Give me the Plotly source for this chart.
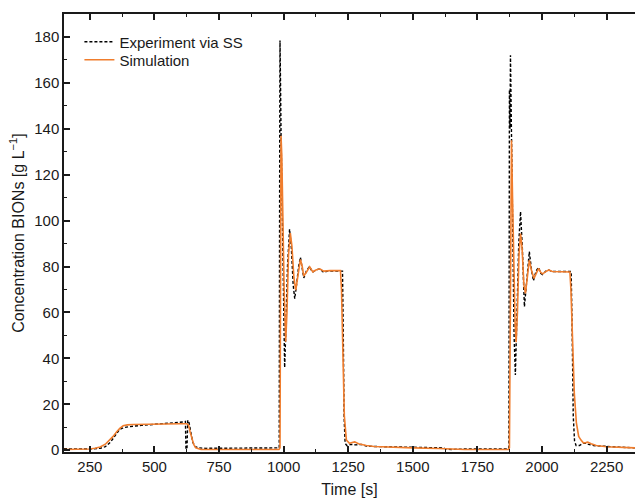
import plotly.graph_objects as go

# Experiment via SS (time [s], concentration [g/L])
exp_t = [150, 200, 250, 290, 310, 330, 350, 365, 380, 400, 450, 500, 550, 600, 615, 620,
         622, 626, 629, 634, 640, 648, 658, 670, 700, 800, 900, 975, 983, 985, 986, 988,
         990, 995, 1000, 1004, 1008, 1015, 1023, 1030, 1037, 1043, 1050, 1058, 1065, 1072,
         1078, 1088, 1100, 1112, 1125, 1140, 1155, 1170, 1190, 1210, 1228, 1231, 1234, 1238,
         1245, 1260, 1280, 1300, 1320, 1350, 1400, 1500, 1600, 1620, 1628, 1640, 1650, 1700,
         1800, 1868, 1872, 1874, 1876, 1878, 1881, 1886, 1892, 1897, 1903, 1910, 1917, 1924,
         1932, 1940, 1951, 1960, 1967, 1977, 1987, 1995, 2002, 2015, 2026, 2040, 2060, 2080,
         2100, 2113, 2117, 2121, 2126, 2132, 2145, 2160, 2170, 2180, 2200, 2230, 2260, 2300, 2360]
exp_c = [0.6, 0.5, 0.5, 0.8, 1.5, 3.5, 6.5, 9.0, 9.8, 10.2, 10.8, 11.2, 11.6, 12.0, 12.3, 12.5,
         0.5, 0.5, 13.0, 12.0, 8.0, 3.5, 1.5, 1.0, 0.8, 0.8, 0.8, 0.8, 1.0, 140.0, 178.5, 160.0,
         138.0, 100.0, 60.0, 36.0, 50.0, 80.0, 96.3, 88.0, 72.0, 66.0, 72.0, 80.0, 84.0, 79.0,
         75.0, 78.0, 80.0, 77.5, 78.5, 79.0, 77.5, 78.0, 78.0, 78.0, 78.0, 50.0, 15.0, 3.0,
         2.0, 2.5, 2.3, 2.5, 1.8, 1.6, 1.5, 1.2, 1.1, 1.0, 0.5, 0.4, 0.3, 0.5,
         0.5, 0.5, 1.0, 157.0, 140.0, 172.0, 140.0, 95.0, 50.0, 32.7, 55.0, 90.0, 103.9, 88.0,
         62.5, 72.0, 86.5, 78.0, 73.8, 78.0, 79.6, 77.0, 76.5, 78.0, 78.5, 77.8, 77.8, 77.8,
         77.8, 77.8, 50.0, 15.0, 4.0, 2.0, 2.0, 3.0, 3.0, 2.5, 2.0, 1.7, 1.5, 1.3, 1.0]

# Simulation
sim_t = [150, 200, 250, 270, 290, 310, 328, 340, 354, 366, 379, 395, 418, 450, 500, 600, 625,
         632, 638, 645, 652, 660, 670, 680, 800, 900, 982, 986, 988, 990, 993, 997, 1002, 1008,
         1013, 1019, 1026, 1032, 1040, 1047, 1055, 1065, 1072, 1078, 1088, 1101, 1113, 1125,
         1140, 1155, 1180, 1220, 1224, 1229, 1235, 1243, 1255, 1265, 1275, 1290, 1320, 1350,
         1400, 1500, 1600, 1650, 1700, 1800, 1870, 1874, 1877, 1882, 1886, 1891, 1896, 1900,
         1905, 1911, 1917, 1923, 1930, 1936, 1943, 1951, 1960, 1969, 1978, 1987, 1995, 2002,
         2015, 2026, 2040, 2080, 2108, 2112, 2118, 2125, 2133, 2142, 2151, 2160, 2170, 2177,
         2190, 2210, 2250, 2300, 2360]
sim_c = [0.3, 0.3, 0.5, 0.8, 1.4, 2.6, 4.4, 6.0, 8.0, 9.5, 10.6, 11.0, 11.2, 11.3, 11.4, 11.5, 11.5,
         11.0, 8.0, 5.0, 2.5, 1.0, 0.5, 0.3, 0.3, 0.3, 0.3, 1.0, 100.0, 137.0, 128.0, 100.0, 70.0, 47.2,
         60.0, 85.0, 94.6, 89.0, 75.0, 69.7, 75.0, 83.1, 80.0, 75.8, 77.5, 79.9, 77.7, 78.5,
         79.0, 78.0, 78.2, 78.2, 70.0, 40.0, 15.0, 4.4, 3.0, 3.3, 3.6, 2.8, 2.0, 1.6,
         1.3, 1.0, 0.7, 0.4, 0.3, 0.3, 0.3, 1.0, 80.0, 135.0, 110.0, 80.0, 55.0, 47.0,
         60.0, 85.0, 94.4, 88.0, 72.0, 68.3, 75.0, 82.8, 78.0, 74.8, 77.0, 79.2, 77.5, 76.8,
         77.8, 78.5, 77.8, 77.6, 77.6, 70.0, 50.0, 25.0, 12.0, 6.0, 4.4, 3.2, 3.3, 3.5,
         2.8, 2.0, 1.5, 1.2, 1.0]

x_ticks = [250, 500, 750, 1000, 1250, 1500, 1750, 2000, 2250]
y_ticks = [0, 20, 40, 60, 80, 100, 120, 140, 160, 180]

FONT = "Liberation Sans, Arial, sans-serif"
TXT = "#1a1a1a"

fig = go.Figure()
fig.add_trace(go.Scatter(x=exp_t, y=exp_c, mode="lines", name="Experiment via SS",
                         legend="legend",
                         line=dict(color="black", width=1.4, dash="3px,2px")))
fig.add_trace(go.Scatter(x=sim_t, y=sim_c, mode="lines", name="Simulation",
                         legend="legend2",
                         line=dict(color="#F07D2D", width=1.6)))

leg_common = dict(xanchor="left", yanchor="middle", bgcolor="rgba(0,0,0,0)", borderwidth=0,
                  font=dict(family=FONT, size=15, color=TXT))

fig.update_layout(
    width=635, height=500,
    margin=dict(l=64, r=0, t=14, b=48),
    paper_bgcolor="white", plot_bgcolor="white",
    font=dict(family=FONT, size=15, color=TXT),
    showlegend=True,
    legend=dict(x=0.027, y=0.936, **leg_common),
    legend2=dict(x=0.027, y=0.895, **leg_common),
    xaxis=dict(range=[150, 2360], tickvals=x_ticks, ticks="inside", ticklen=6, tickwidth=1.5,
               tickcolor=TXT, showline=True, linecolor=TXT, linewidth=1.5,
               mirror="ticks", showgrid=False, zeroline=False,
               tickfont=dict(size=15),
               minor=dict(ticks="inside", ticklen=3, tickwidth=1.2, tickcolor=TXT,
                          tick0=125, dtick=250, showgrid=False),
               title=dict(text="Time [s]", standoff=10, font=dict(size=16))),
    yaxis=dict(range=[-0.8, 190], tickvals=y_ticks, ticks="inside", ticklen=6, tickwidth=1.5,
               tickcolor=TXT, showline=True, linecolor=TXT, linewidth=1.5,
               mirror=False, showgrid=False, zeroline=False,
               tickfont=dict(size=15),
               minor=dict(ticks="inside", ticklen=3, tickwidth=1.2, tickcolor=TXT,
                          tick0=10, dtick=20, showgrid=False),
               title=dict(text="Concentration BIONs [g L<sup>\u22121</sup>]", standoff=6,
                          font=dict(size=16))),
)

fig.write_html("out.html")
